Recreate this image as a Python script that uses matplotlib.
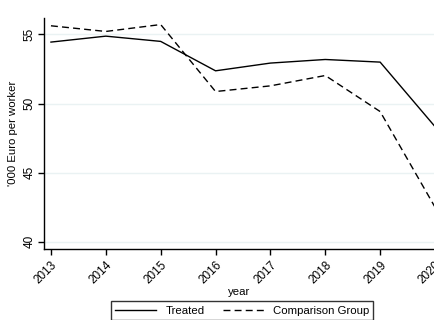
import numpy as np
import matplotlib.pyplot as plt

plt.rcParams['font.family'] = ['Liberation Sans', 'DejaVu Sans']

years = [2013, 2014, 2015, 2016, 2017, 2018, 2019, 2020]
treated = [54.45, 54.88, 54.5, 52.37, 52.93, 53.19, 53.0, 48.33]
comparison = [55.63, 55.22, 55.72, 50.87, 51.28, 52.03, 49.42, 42.5]
yticks = [40, 45, 50, 55]

fig = plt.figure(figsize=(4.35, 3.2), dpi=100)
ax = fig.add_axes([0.101, 0.222, 0.899, 0.722])

ax.plot(years, treated, color='black', linewidth=1.0, label='Treated')
ax.plot(years, comparison, color='black', linewidth=1.0, dashes=(5, 3),
        label='Comparison Group')

ax.set_xlim(2012.872, 2020)
ax.set_ylim(39.47, 56.2)
ax.set_xticks(years)
ax.set_xticklabels([str(y) for y in years], rotation=45, ha='right',
                   rotation_mode='anchor', fontsize=8.5)
ax.set_yticks(yticks)
ax.set_yticklabels([str(v) for v in yticks], rotation=90, va='center', fontsize=8.5)
ax.tick_params(direction='out', length=4, width=1, colors='black', pad=2)
ax.tick_params(axis='x', pad=3)

ax.grid(axis='y', color='#eaf2f3', linewidth=1.0)
ax.set_axisbelow(True)
for side in ['top', 'right']:
    ax.spines[side].set_visible(False)
for side in ['left', 'bottom']:
    ax.spines[side].set_linewidth(1.0)

ax.set_xlabel('year', fontsize=8.2, labelpad=1)
ax.set_ylabel("'000 Euro per worker", fontsize=8.2, labelpad=4)

leg = fig.legend(loc='upper center', bbox_to_anchor=(242 / 435, 1 - 301 / 320),
                 ncol=2, fontsize=8.2, frameon=True, fancybox=False,
                 handlelength=3.6, handletextpad=0.8, columnspacing=1.6,
                 borderpad=0.4, borderaxespad=0, edgecolor='black')
leg.get_frame().set_linewidth(1.0)

plt.savefig('out.png', dpi=100)
